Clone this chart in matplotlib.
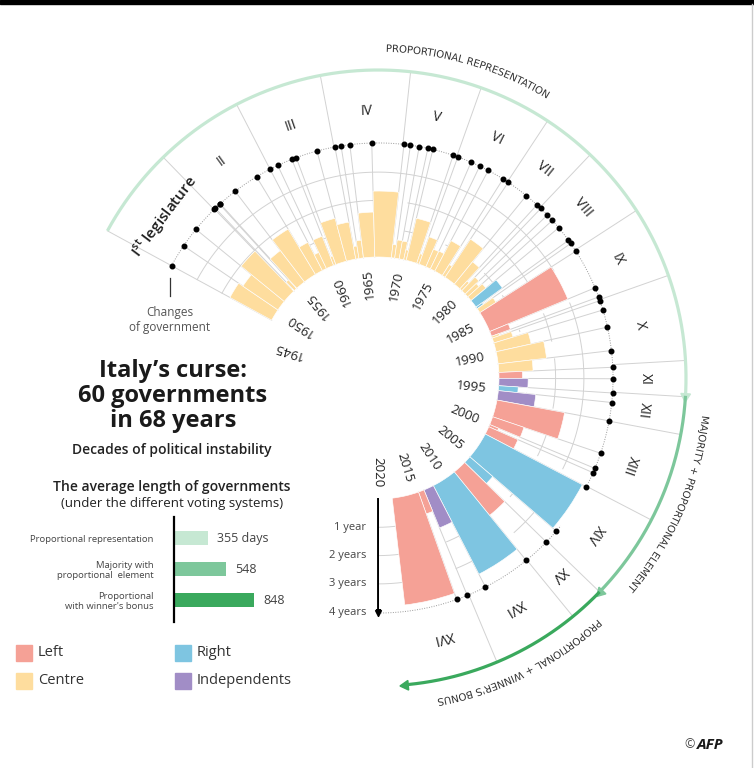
import numpy as np
import matplotlib
matplotlib.use('Agg')
import matplotlib.pyplot as plt
from matplotlib.patches import Rectangle, Polygon, PathPatch
from matplotlib.font_manager import FontProperties
from matplotlib.textpath import TextPath
from matplotlib.path import Path

plt.rcParams['font.family'] = ['Open Sans', 'DejaVu Sans']

# --- data -----------------------------------------------------------------
# governments since May 1948: start (decimal year), length (years), side
gov_start = [1948.39, 1950.07, 1951.56, 1953.54, 1953.63, 1954.05, 1954.11, 1955.51, 1957.38, 1958.50,
             1959.12, 1960.23, 1960.57, 1962.14, 1963.47, 1963.92, 1964.56, 1966.15, 1968.48, 1968.95,
             1969.59, 1970.23, 1970.60, 1972.13, 1972.48, 1973.51, 1974.20, 1974.89, 1976.12, 1976.57,
             1978.19, 1979.21, 1979.59, 1980.26, 1980.79, 1981.49, 1982.64, 1982.92, 1983.59, 1986.58,
             1987.29, 1987.57, 1988.28, 1989.56, 1991.28, 1992.49, 1993.32, 1994.35, 1995.04, 1996.38,
             1998.80, 1999.97, 2000.31, 2001.44, 2005.31, 2006.38, 2008.35, 2011.87, 2013.32, 2014.14]
gov_length = [1.68, 1.50, 1.97, 0.09, 0.42, 0.06, 1.40, 1.87, 1.12, 0.63,
              1.11, 0.33, 1.57, 1.33, 0.45, 0.63, 1.59, 2.33, 0.47, 0.65,
              0.64, 0.36, 1.53, 0.36, 1.03, 0.68, 0.70, 1.22, 0.46, 1.62,
              1.02, 0.38, 0.67, 0.54, 0.69, 1.15, 0.27, 0.68, 2.99, 0.71,
              0.28, 0.71, 1.27, 1.72, 1.21, 0.83, 1.03, 0.69, 1.33, 2.43,
              1.17, 0.34, 1.13, 3.87, 1.07, 1.98, 3.52, 1.45, 0.82, 3.80]
gov_side = ['C'] * 35 + ['R', 'R', 'C', 'L', 'L', 'C', 'C', 'C', 'C', 'C',
                         'L', 'I', 'R', 'I', 'L', 'L', 'L', 'L', 'R', 'R',
                         'L', 'R', 'I', 'L', 'L']

side_names = ['Left', 'Centre', 'Right', 'Independents']
side_keys = ['L', 'C', 'R', 'I']
side_colors = {'L': '#f5a196', 'C': '#fedd9e', 'R': '#7ec5e1', 'I': '#a18dc6'}

legis_start = [1948.39, 1953.5, 1958.5, 1963.4, 1968.4, 1972.4, 1976.5, 1979.5, 1983.5,
               1987.5, 1992.3, 1994.3, 1996.4, 2001.4, 2006.3, 2008.3, 2013.2, 2018.2]
legis_names = ['I$^{\\mathregular{st}}$ legislature', 'II', 'III', 'IV', 'V', 'VI', 'VII', 'VIII', 'IX',
               'X', 'XI', 'XII', 'XIII', 'XIV', 'XV', 'XVI', 'XVI']

system_names = ['PROPORTIONAL REPRESENTATION', 'MAJORITY + PROPORTIONAL ELEMENT',
                "PROPORTIONAL + WINNER'S BONUS"]
system_bounds = [1948.39, 1994.25, 2006.3, 2018.45]
system_label_at = [1971.4, 2000.2, 2012.1]
system_colors = ['#c6e8d3', '#7dc79b', '#3aa95d']

avg_labels = ['Proportional representation', 'Majority with\nproportional  element',
              "Proportional\nwith winner's bonus"]
avg_days = [355, 548, 848]
avg_texts = ['355 days', '548', '848']

year_ticks = list(range(1945, 2021, 5))
scale_years = [1, 2, 3, 4]
scale_labels = ['1 year', '2 years', '3 years', '4 years']

# --- geometry -------------------------------------------------------------
W, H = 754, 768
CX, CY = 378, 378          # centre of the wheel, pixels from top-left
PXY = 28.3                 # pixels per year of radius
DEG0, DPY = 162.9, 3.375   # screen angle of 1945, degrees per year
R0 = 121 / PXY             # inner circle
RDOT = R0 + 4.03
RLEG = 267 / PXY
RGREEN = 308 / PXY
RTXT_PX = 330
T_END = 2019.93
SHADOW_DX = 10             # white offset copy of each bar hides the grid (pixels)


def th(t):
    return np.deg2rad((np.asarray(t, dtype=float) - 1945) * DPY)


def scr(t):
    return DEG0 - (t - 1945) * DPY


def fx(x):
    return x / W


def fy(y):
    return 1 - y / H


fig = plt.figure(figsize=(W / 100, H / 100), dpi=100)
RB = 360
ax = fig.add_axes([fx(CX - RB), fy(CY + RB), 2 * RB / W, 2 * RB / H], projection='polar')
ax.set_theta_offset(np.deg2rad(DEG0))
ax.set_theta_direction(-1)
ax.set_ylim(0, RB / PXY)
ax.set_axis_off()

grid_c = '#d2d2d2'
tt = np.linspace(th(gov_start[0]), th(T_END), 400)
for k in [1, 2, 3]:
    ax.plot(tt, np.full_like(tt, R0 + k), color=grid_c, lw=0.7, zorder=1)
ax.plot(tt, np.full_like(tt, RDOT), color='#9a9a9a', lw=0.7, ls=(0, (1, 1.5)), zorder=1)

for s in gov_start:
    ax.plot([th(s)] * 2, [R0, RDOT], color=grid_c, lw=0.7, zorder=1.7)
for s in legis_start[:-1]:
    ax.plot([th(s)] * 2, [RDOT, RGREEN], color=grid_c, lw=0.7, zorder=1.7)

# white shifted copies of the bars (they blank the grid next to each bar)
for s, d in zip(gov_start, gov_length):
    a = np.deg2rad(np.linspace(scr(s), scr(s + d), 30))
    rr_in, rr_out = R0 * PXY, (R0 + d) * PXY
    xs = np.concatenate([CX + rr_in * np.cos(a), CX + rr_out * np.cos(a[::-1])]) + SHADOW_DX
    ys = np.concatenate([CY - rr_in * np.sin(a), CY - rr_out * np.sin(a[::-1])])
    ax.add_patch(Polygon(np.column_stack([fx(xs), fy(ys)]), closed=True, transform=fig.transFigure,
                         facecolor='white', edgecolor='none', zorder=1.5))

# government bars
for s, d, p in zip(gov_start, gov_length, gov_side):
    ax.bar(th(s), d, width=th(s + d) - th(s), bottom=R0, align='edge',
           color=side_colors[p], edgecolor='white', linewidth=0.45, zorder=2)

ax.plot(th(gov_start), np.full(len(gov_start), RDOT), 'o', color='black', ms=3.3, zorder=4)

# year labels inside the wheel
for y in year_ticks:
    ax.text(th(y), 3.85, str(y), rotation=scr(y), rotation_mode='anchor',
            ha='right', va='center', fontsize=9.5, color='#222222')

# legislature labels
for i, name in enumerate(legis_names):
    mid = (legis_start[i] + legis_start[i + 1]) / 2
    ax.text(th(mid), RLEG, name, rotation=scr(mid) - 90, rotation_mode='anchor',
            ha='center', va='center', fontsize=11 if i == 0 else 10,
            fontweight='semibold' if i == 0 else 'normal', color='#1e1e1e')

# voting-system arcs with arrowheads
for i in range(3):
    a, b = system_bounds[i], system_bounds[i + 1]
    seg = np.linspace(th(a), th(b), 200)
    ax.plot(seg, np.full_like(seg, RGREEN), color=system_colors[i], lw=2.3,
            solid_capstyle='butt', zorder=3)
    ax.plot(th(b), RGREEN, marker=(3, 0, scr(b) - 180), ms=8, color=system_colors[i], zorder=3)

# curved labels of the voting systems: the text outline is bent along the arc
fp = FontProperties(family=['DejaVu Sans'], size=7.3)
for name, t_mid in zip(system_names, system_label_at):
    tp = TextPath((0, 0), name, prop=fp)
    v = tp.vertices * 100 / 72
    x0, x1 = v[:, 0].min(), v[:, 0].max()
    hy = TextPath((0, 0), 'H', prop=fp).vertices[:, 1].max() * 100 / 72
    ang = np.deg2rad(scr(t_mid)) - (v[:, 0] - (x0 + x1) / 2) / RTXT_PX
    rad = RTXT_PX + v[:, 1] - hy / 2
    bent = np.column_stack([fx(CX + rad * np.cos(ang)), fy(CY - rad * np.sin(ang))])
    ax.add_patch(PathPatch(Path(bent, tp.codes), transform=fig.transFigure,
                           facecolor='#333333', edgecolor='none', zorder=3))

# radial scale
ax.plot([th(T_END)] * 2, [R0, RDOT], color='black', lw=1.4, zorder=5)
ax.plot(th(T_END), RDOT, marker='v', ms=4, color='black', zorder=5)
for k, lab in zip(scale_years, scale_labels):
    ax.annotate(lab, (th(T_END), R0 + k), xytext=(-12, 0), textcoords='offset pixels',
                ha='right', va='center', fontsize=8, color='#444444')

# --- left side texts -------------------------------------------------------
fig.add_artist(plt.Line2D([fx(170), fx(170)], [fy(278), fy(296)], color='#333333', lw=0.9))
fig.text(fx(170), fy(320), 'Changes\nof government', ha='center', va='center',
         fontsize=8.5, color='#555555', linespacing=1.25)

fig.text(fx(173), fy(396), 'Italy’s curse:\n60 governments\nin 68 years', ha='center', va='center',
         fontsize=17, fontweight='bold', color='#1a1a1a', linespacing=1.05)
fig.text(fx(172), fy(450), 'Decades of political instability', ha='center', va='center',
         fontsize=10, fontweight='semibold', color='#222222')
fig.text(fx(172), fy(487), 'The average length of governments', ha='center', va='center',
         fontsize=10, fontweight='semibold', color='#222222')
fig.text(fx(172), fy(503), '(under the different voting systems)', ha='center', va='center',
         fontsize=9.5, color='#222222')

# average length bars
bx = fig.add_axes([fx(174), fy(622), 130 / W, 105 / H])
bx.barh(range(3), avg_days, height=0.48, color=system_colors)
bx.set_xlim(0, 130 * 10.55)
bx.set_ylim(2.71, -0.68)
bx.set_yticks(range(3), avg_labels, fontsize=6.8, color='#444444')
bx.tick_params(axis='y', length=0, pad=15)
bx.set_xticks([])
for sp in ['top', 'right', 'bottom']:
    bx.spines[sp].set_visible(False)
bx.spines['left'].set_linewidth(1.6)
bx.patch.set_visible(False)
for i, (v, lab) in enumerate(zip(avg_days, avg_texts)):
    bx.annotate(lab, (v, i), xytext=(9, 0), textcoords='offset pixels',
                ha='left', va='center', fontsize=9, color='#444444')

# legend
leg_pos = [(16, 653), (16, 681), (175, 653), (175, 681)]
leg_order = ['L', 'C', 'R', 'I']
for (lx, ly), key in zip(leg_pos, leg_order):
    fig.add_artist(Rectangle((fx(lx), fy(ly + 8)), 16 / W, 16 / H, transform=fig.transFigure,
                             color=side_colors[key]))
    fig.text(fx(lx + 22), fy(ly), side_names[side_keys.index(key)], ha='left', va='center',
             fontsize=10.5, color='#333333')

fig.text(fx(684), fy(745), '©', ha='left', va='center', fontsize=9, color='#444444')
fig.text(fx(697), fy(745), 'AFP', ha='left', va='center', fontsize=11, fontweight='bold',
         style='italic', color='#1a1a1a')

fig.add_artist(Rectangle((0, fy(4)), 1, 4 / H, transform=fig.transFigure, color='black'))
fig.add_artist(plt.Line2D([fx(751.5), fx(751.5)], [0, fy(4)], color='#cccccc', lw=1))

fig.savefig('out.png', dpi=100)
